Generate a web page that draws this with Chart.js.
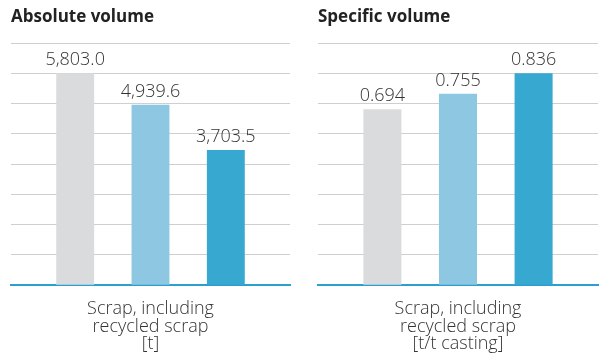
<!DOCTYPE html>
<html>
<head>
<meta charset="utf-8">
<script src="https://cdn.jsdelivr.net/npm/chart.js@4"></script>
<style>
  html, body { margin: 0; padding: 0; background: #fff; overflow: hidden; }
  #wrap { position: relative; width: 609px; height: 356px; overflow: hidden; }
  .box { position: absolute; top: 0; height: 368px; }
</style>
</head>
<body>
<div id="wrap">
  <div class="box" style="left:0;width:300px;"><canvas id="c1"></canvas></div>
  <div class="box" style="left:300px;width:309px;"><canvas id="c2"></canvas></div>
</div>
<script>
// ---- data ----
const seriesNames = ['Year 1', 'Year 2', 'Year 3'];
const absoluteCategory = [['Scrap, including', 'recycled scrap', '[t]']];
const absoluteValues = [5803.0, 4939.6, 3703.5];
const specificCategory = [['Scrap, including', 'recycled scrap', '[t/t casting]']];
const specificValues = [0.694, 0.755, 0.836];
const titles = ['Absolute volume', 'Specific volume'];

const barColors = ['#dadbdc', '#8ec7e2', '#37a9d0'];
const FONT = '"Open Sans", sans-serif';

const valueLabels = {
  id: 'valueLabels',
  afterDatasetsDraw(chart, args, opts) {
    const ctx = chart.ctx;
    ctx.save();
    ctx.font = '300 18px ' + FONT;
    ctx.fillStyle = '#333';
    ctx.textAlign = 'center';
    ctx.textBaseline = 'alphabetic';
    chart.data.datasets.forEach((ds, i) => {
      const meta = chart.getDatasetMeta(i);
      meta.data.forEach((el, j) => {
        const v = ds.data[j];
        const s = v.toLocaleString('en-US', {minimumFractionDigits: opts.decimals, maximumFractionDigits: opts.decimals});
        ctx.fillText(s, el.x, el.y - 8);
      });
    });
    ctx.restore();
  }
};

function makeChart(id, title, labels, values, max, decimals, padLeft, padRight) {
  return new Chart(document.getElementById(id), {
    type: 'bar',
    data: {
      labels: labels,
      datasets: values.map((v, i) => ({
        label: seriesNames[i],
        data: [v],
        backgroundColor: barColors[i],
        borderWidth: 0,
        categoryPercentage: 0.81,
        barPercentage: 0.503
      }))
    },
    options: {
      responsive: true,
      maintainAspectRatio: false,
      animation: false,
      layout: { padding: { left: padLeft, right: padRight, top: 0, bottom: 0 } },
      plugins: {
        legend: { display: false },
        tooltip: { enabled: false },
        title: {
          display: true,
          text: title,
          align: 'start',
          color: '#222',
          font: { family: FONT, size: 17, weight: 'bold', lineHeight: 1.2 },
          padding: { top: 6.5, bottom: 16.1 }
        },
        valueLabels: { decimals: decimals }
      },
      scales: {
        x: {
          grid: { display: false, drawTicks: false },
          border: { display: true, color: '#2a9fd0', width: 2 },
          ticks: {
            color: '#333',
            padding: 15,
            font: { family: FONT, size: 18, weight: '300', lineHeight: '17.6px' },
            maxRotation: 0
          }
        },
        y: {
          min: 0,
          max: max,
          grid: {
            color: (c) => (c.tick && c.tick.value === 0) ? 'rgba(0,0,0,0)' : '#cfcfcf',
            lineWidth: 1,
            drawTicks: false
          },
          border: { display: false },
          ticks: { display: false, count: 9 }
        }
      }
    },
    plugins: [valueLabels]
  });
}

makeChart('c1', titles[0], absoluteCategory, absoluteValues, 6632, 1, 11, 10);
makeChart('c2', titles[1], specificCategory, specificValues, 0.9554, 3, 18, 11);
</script>
</body>
</html>
